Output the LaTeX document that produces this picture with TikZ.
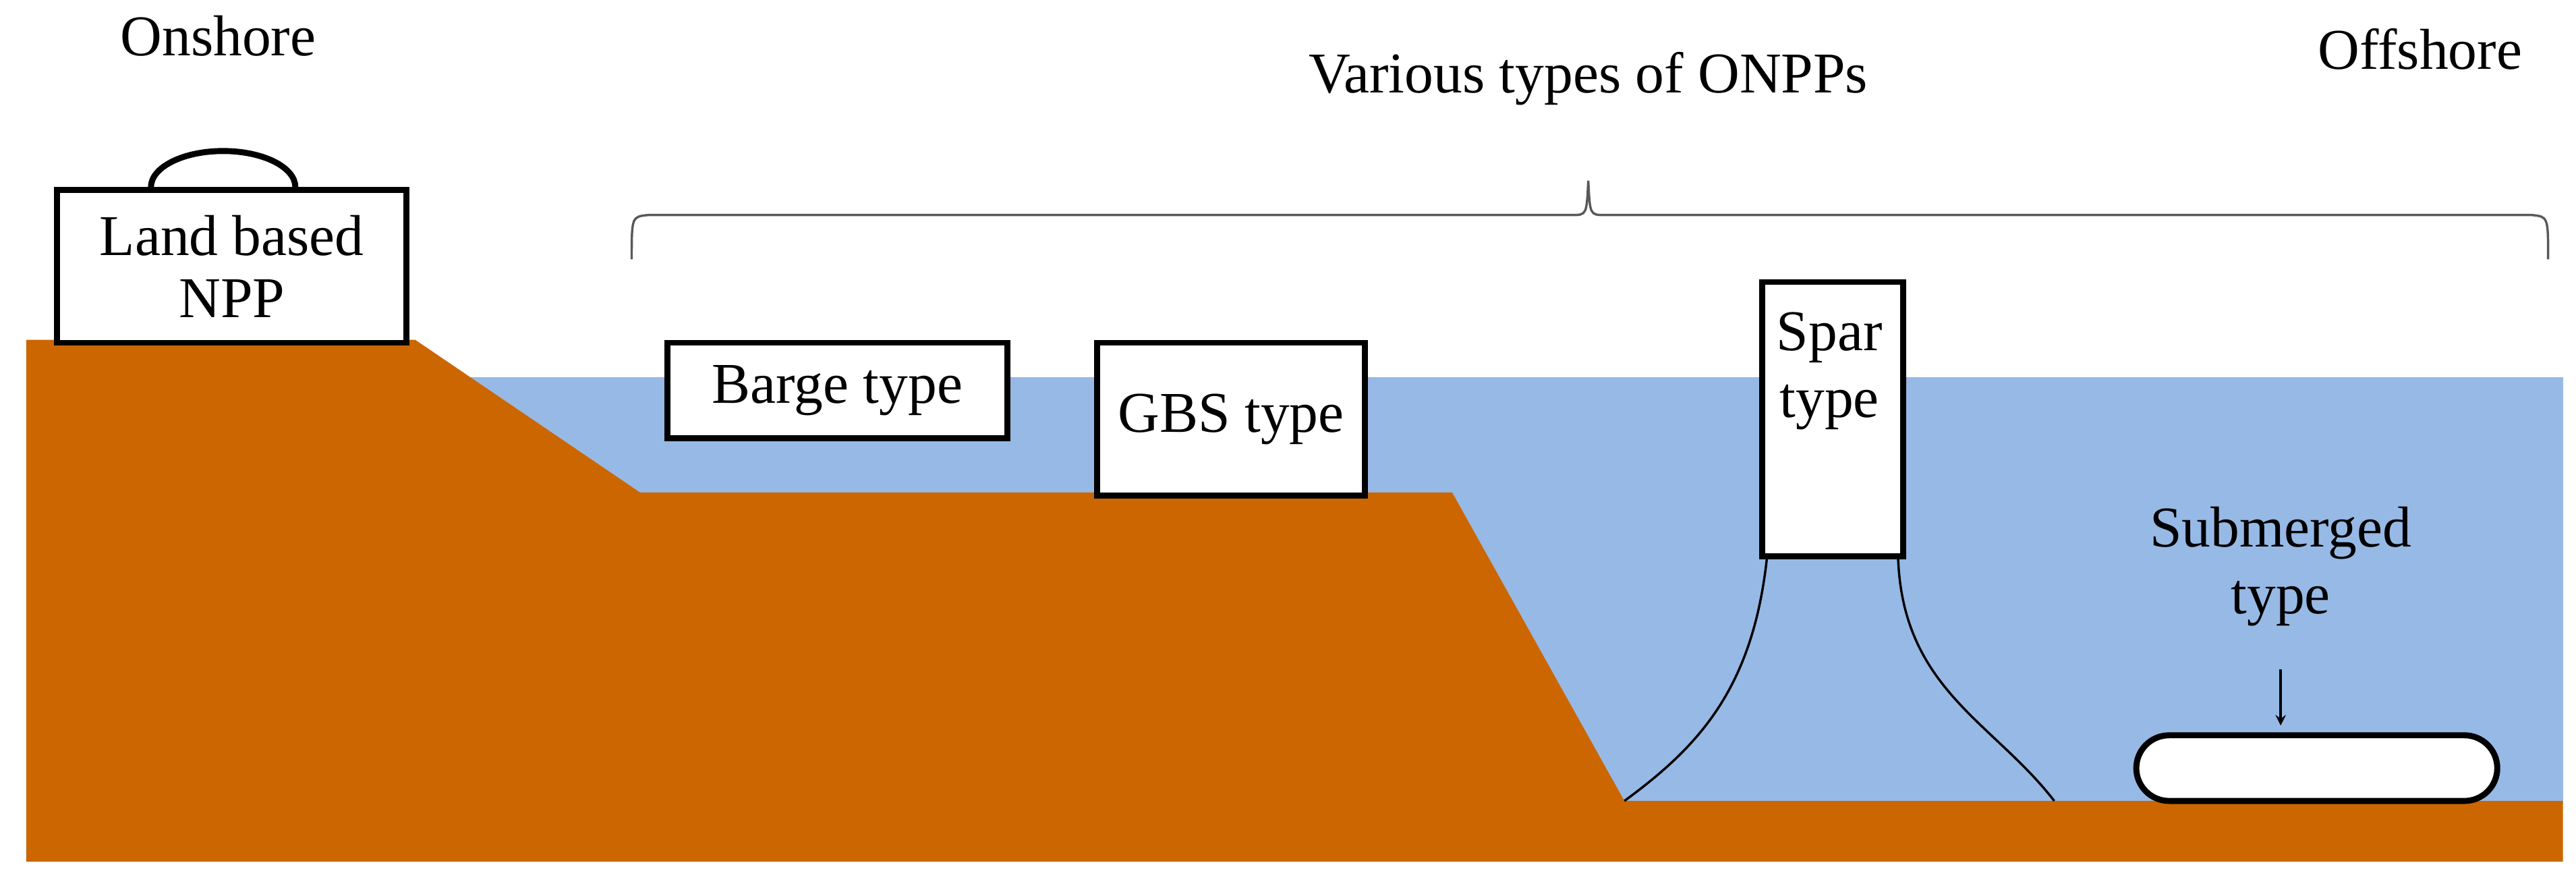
\documentclass[tikz,border=0pt]{standalone}
\usepackage{fontspec}
\setmainfont{Liberation Serif}
\begin{document}
\begin{tikzpicture}[x=0.025cm,y=-0.025cm,
  lbl/.style={font=\fontsize{25}{29}\selectfont,align=center,inner sep=0pt},
  box/.style={draw=black,line width=2.6pt,fill=white},
  moor/.style={draw=black,line width=1pt}]
\useasboundingbox (0,0) rectangle (1570,544.3);
\definecolor{land}{HTML}{CC6600}
\definecolor{water}{HTML}{97B9E5}
\fill[water] (285,230) rectangle (1562,490);
\fill[land] (16,207) -- (253,207) -- (390,300) -- (885,300) -- (990,488) -- (1562,488) -- (1562,525) -- (16,525) -- cycle;
% texts
\node[lbl] (on) at (133,22) {Onshore};
\node[lbl] (var) at (968,48) {Various types of ONPPs};
\node[lbl] (off) at (1475,30) {Offshore};
% brace
\draw[gray!70!black,line width=1pt] (385,158) .. controls (385,132) .. (395,131) -- (958,131) .. controls (967,131) .. (968,110) .. controls (969,131) .. (978,131) -- (1543,131) .. controls (1553,132) .. (1553,158);
% land NPP
\draw[box] (92,114) arc[start angle=180,end angle=360,x radius=44,y radius=22];
\node[box,minimum width=213*0.025cm,minimum height=93*0.025cm,anchor=north west,lbl] (npp) at (33,114) {Land based\\[-2pt]NPP};
\node[box,minimum width=207*0.025cm,minimum height=58*0.025cm,anchor=north west,lbl] (barge) at (405,207) {Barge type};
\node[box,minimum width=163*0.025cm,minimum height=93*0.025cm,anchor=north west,lbl] (gbs) at (667,207) {GBS type};
\node[box,minimum width=86*0.025cm,minimum height=167*0.025cm,anchor=north west] (spar) at (1072,170) {};
\node[lbl,anchor=north] (spart) at (1115,190) {Spar\\type};
\coordinate (a1) at (990,488);
\coordinate (a2) at (1252,488);
\draw[moor] ([xshift=0.12cm]spar.south west) .. controls (1068,420) and (1035,455) .. (a1);
\draw[moor] ([xshift=-0.12cm]spar.south east) .. controls (1160,420) and (1215,440) .. (a2);
\node[lbl] (sub) at (1390,345) {Submerged\\type};
\node[draw=black,line width=2.6pt,fill=white,rounded corners=0.5cm,minimum width=220*0.025cm,minimum height=40*0.025cm] (cap) at (1412,468) {};
\coordinate (arr) at (1390,408);
\draw[-stealth,line width=1pt] (arr) -- (1390,442);
\end{tikzpicture}
\end{document}
